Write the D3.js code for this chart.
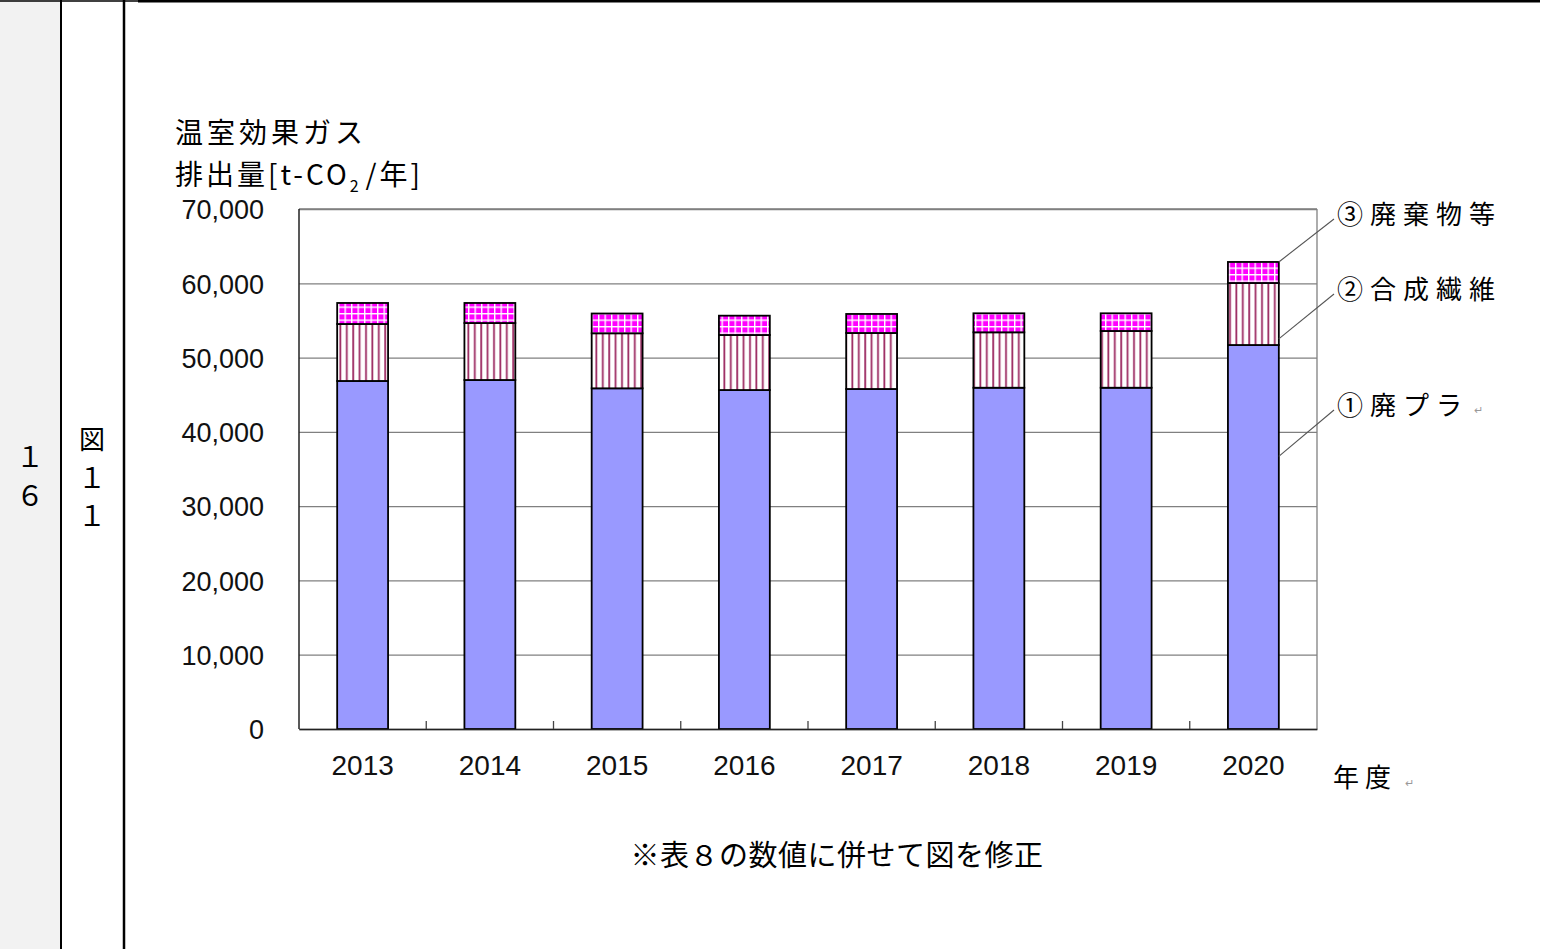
<!DOCTYPE html>
<html>
<head>
<meta charset="utf-8">
<script src="https://cdn.jsdelivr.net/npm/d3@7"></script>
<style>
  body { margin: 0; background: #fff; }
  svg { display: block; }
</style>
</head>
<body>
<div id="chart"></div>
<script>
// data
var years = ["2013", "2014", "2015", "2016", "2017", "2018", "2019", "2020"];
var plastic = [46850, 46980, 45860, 45630, 45770, 45940, 45940, 51690];
var fiber = [7670, 7670, 7410, 7410, 7540, 7460, 7640, 8350];
var waste = [2830, 2700, 2660, 2600, 2560, 2560, 2380, 2830];
var seriesNames = ["①廃プラ", "②合成繊維", "③廃棄物等"];
var yTicks = [0, 10000, 20000, 30000, 40000, 50000, 60000, 70000];

var W = 1547, H = 949;
var jp = "'Noto Sans CJK JP', sans-serif";
var num = "'Liberation Sans', Arial, sans-serif";

var svg = d3.select("#chart").append("svg")
    .attr("width", W)
    .attr("height", H);

// table frame around the figure
svg.append("rect").attr("x", 0).attr("y", 0).attr("width", 61).attr("height", H).attr("fill", "#f2f2f2");
svg.append("line").attr("x1", 61).attr("x2", 61).attr("y1", 0).attr("y2", H).attr("stroke", "#000").attr("stroke-width", 2);
svg.append("line").attr("x1", 124).attr("x2", 124).attr("y1", 0).attr("y2", H).attr("stroke", "#000").attr("stroke-width", 2.5);
svg.append("line").attr("x1", 0).attr("x2", 138).attr("y1", 1).attr("y2", 1).attr("stroke", "#000").attr("stroke-width", 1.5);
svg.append("line").attr("x1", 138).attr("x2", 1540).attr("y1", 1).attr("y2", 1).attr("stroke", "#000").attr("stroke-width", 3);

svg.append("text").attr("x", 30).attr("y", 467).attr("text-anchor", "middle")
  .style("font-family", jp).style("font-size", "28px").text("１");
svg.append("text").attr("x", 30).attr("y", 506).attr("text-anchor", "middle")
  .style("font-family", jp).style("font-size", "28px").text("６");
svg.append("text").attr("x", 92).attr("y", 449).attr("text-anchor", "middle")
  .style("font-family", jp).style("font-size", "26px").text("図");
svg.append("text").attr("x", 92).attr("y", 488).attr("text-anchor", "middle")
  .style("font-family", jp).style("font-size", "28px").text("１");
svg.append("text").attr("x", 92).attr("y", 526).attr("text-anchor", "middle")
  .style("font-family", jp).style("font-size", "28px").text("１");

// fill patterns
var defs = svg.append("defs");
var stripe = defs.append("pattern").attr("id", "stripe")
    .attr("patternUnits", "userSpaceOnUse").attr("width", 6.4).attr("height", 10);
stripe.append("rect").attr("width", 6.4).attr("height", 10).attr("fill", "#fff");
stripe.append("line").attr("x1", 3).attr("x2", 3).attr("y1", 0).attr("y2", 10)
  .attr("stroke", "#9c2a62").attr("stroke-width", 1.8);

var grid = defs.append("pattern").attr("id", "grid")
    .attr("patternUnits", "userSpaceOnUse").attr("width", 6.5).attr("height", 6.5);
grid.append("rect").attr("width", 6.5).attr("height", 6.5).attr("fill", "#ff00ff");
grid.append("line").attr("x1", 0.7).attr("x2", 0.7).attr("y1", 0).attr("y2", 6.5)
  .attr("stroke", "#fff").attr("stroke-width", 1.4);
grid.append("line").attr("y1", 0.7).attr("y2", 0.7).attr("x1", 0).attr("x2", 6.5)
  .attr("stroke", "#fff").attr("stroke-width", 1.4);

// plot area
var plotL = 299, plotR = 1317, plotT = 209, plotB = 729;
var width = plotR - plotL, height = plotB - plotT;

var g = svg.append("g").attr("transform", "translate(" + plotL + "," + plotT + ")");

var x = d3.scaleBand().domain(years).range([0, width]).paddingInner(0.6).paddingOuter(0.3);
var y = d3.scaleLinear().domain([0, 70000]).range([height, 0]);

// gridlines
g.append("g")
  .call(d3.axisLeft(y).tickValues(yTicks).tickSize(-width).tickFormat(""))
  .call(function (s) {
    s.select(".domain").remove();
    s.selectAll("line").attr("stroke", "#808080").attr("stroke-width", 1.3);
  });
// top and right frame
g.append("line").attr("x1", 0).attr("x2", width).attr("y1", 0).attr("y2", 0).attr("stroke", "#808080").attr("stroke-width", 1.3);
g.append("line").attr("x1", width).attr("x2", width).attr("y1", 0).attr("y2", height).attr("stroke", "#808080").attr("stroke-width", 1.3);

// y axis labels
g.append("g")
  .call(d3.axisLeft(y).tickValues(yTicks).tickSize(0).tickPadding(35).tickFormat(d3.format(",")))
  .call(function (s) {
    s.select(".domain").remove();
    s.selectAll("text").style("font-family", num).style("font-size", "27px").attr("fill", "#111").attr("dy", "0.36em");
  });

// stacked bars
var rows = years.map(function (yr, i) {
  return { year: yr, plastic: plastic[i], fiber: fiber[i], waste: waste[i] };
});
var stack = d3.stack().keys(["plastic", "fiber", "waste"])(rows);
var fills = ["#9999ff", "url(#stripe)", "url(#grid)"];

g.selectAll("g.layer")
  .data(stack)
  .enter()
  .append("g")
    .attr("class", "layer")
    .attr("fill", function (d, i) { return fills[i]; })
  .selectAll("rect")
  .data(function (d) { return d; })
  .enter()
  .append("rect")
    .attr("x", function (d) { return x(d.data.year); })
    .attr("width", x.bandwidth())
    .attr("y", function (d) { return y(d[1]); })
    .attr("height", function (d) { return y(d[0]) - y(d[1]); })
    .attr("stroke", "#000")
    .attr("stroke-width", 1.8);

// left and bottom axes
g.append("line").attr("x1", 0).attr("x2", 0).attr("y1", 0).attr("y2", height).attr("stroke", "#222").attr("stroke-width", 1.5);
g.append("g").attr("transform", "translate(0," + height + ")")
  .call(d3.axisBottom(x).tickSize(0).tickPadding(26))
  .call(function (s) {
    s.select(".domain").attr("stroke", "#222").attr("stroke-width", 1.5);
    s.selectAll("text").style("font-family", num).style("font-size", "28px").attr("fill", "#111");
  });
// tick marks between categories
var gap = (x.step() - x.bandwidth()) / 2;
g.append("g")
  .selectAll("line")
  .data(years.slice(1))
  .enter()
  .append("line")
    .attr("x1", function (d) { return x(d) - gap; })
    .attr("x2", function (d) { return x(d) - gap; })
    .attr("y1", height)
    .attr("y2", height - 8)
    .attr("stroke", "#444")
    .attr("stroke-width", 1.3);

// y axis title
svg.append("text").attr("x", 175).attr("y", 143)
  .style("font-family", jp).style("font-size", "28px").style("letter-spacing", "4px")
  .text("温室効果ガス");
var t2 = svg.append("text").attr("x", 175).attr("y", 185)
  .style("font-family", jp).style("font-size", "28px").style("letter-spacing", "3px");
t2.append("tspan").text("排出量[t-CO");
t2.append("tspan").attr("dy", 7).style("font-size", "16px").text("2");
t2.append("tspan").attr("dy", -7).attr("dx", 4).text("/年]");

// x axis title
svg.append("text").attr("x", 1333).attr("y", 787)
  .style("font-family", jp).style("font-size", "26px").style("letter-spacing", "6px")
  .text("年度");
svg.append("text").attr("x", 1405).attr("y", 787)
  .style("font-family", jp).style("font-size", "11px").attr("fill", "#999").text("↵");

// series labels with leader lines
var last = stack.map(function (s) { return s[s.length - 1]; });
var xe = plotL + x(years[years.length - 1]) + x.bandwidth();
var labelY = [406, 290, 215];
var anchorV = [
  last[0][0] + (last[0][1] - last[0][0]) * 0.71,
  last[1][0] + (last[1][1] - last[1][0]) * 0.1,
  last[2][1]
];
seriesNames.forEach(function (name, i) {
  svg.append("line")
    .attr("x1", xe).attr("y1", plotT + y(anchorV[i]))
    .attr("x2", 1334).attr("y2", labelY[i] + 4)
    .attr("stroke", "#555").attr("stroke-width", 1.1);
  svg.append("text").attr("x", 1337).attr("y", labelY[i]).attr("dy", "0.36em")
    .style("font-family", jp).style("font-size", "26px").style("letter-spacing", "7px")
    .text(name);
});
svg.append("text").attr("x", 1474).attr("y", 414)
  .style("font-family", jp).style("font-size", "11px").attr("fill", "#999").text("↵");

// note below the chart
svg.append("text").attr("x", 837).attr("y", 866).attr("text-anchor", "middle")
  .style("font-family", jp).style("font-size", "29px").style("letter-spacing", "0.5px")
  .text("※表８の数値に併せて図を修正");
</script>
</body>
</html>
